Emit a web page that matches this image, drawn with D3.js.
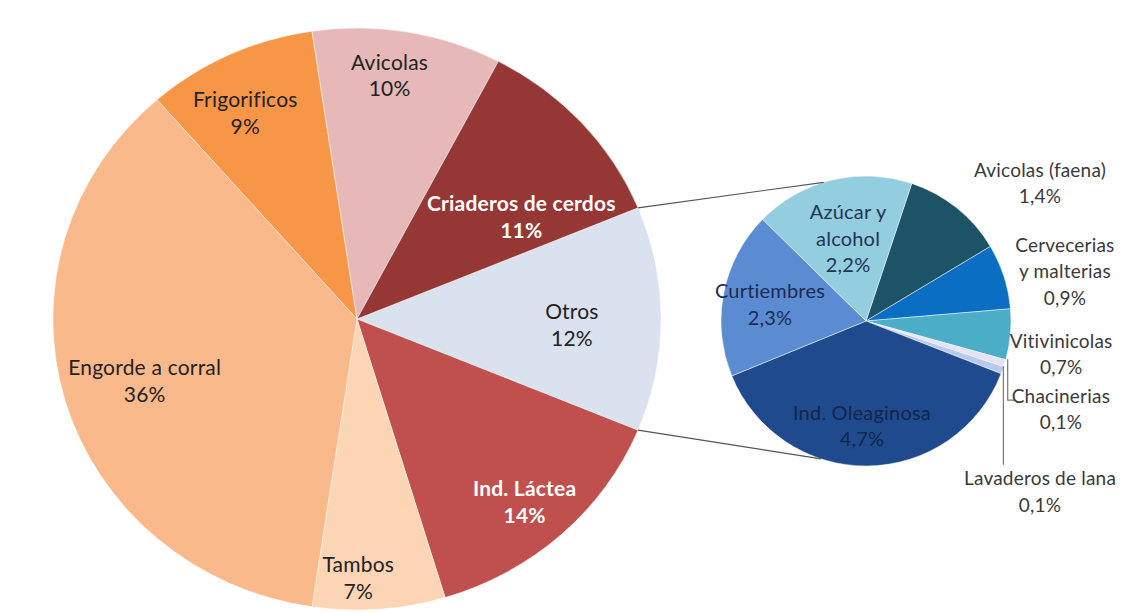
<!DOCTYPE html>
<html><head><meta charset="utf-8">
<script src="https://cdn.jsdelivr.net/npm/d3@7"></script>
<style>body{margin:0;background:#fff;overflow:hidden}svg{display:block}</style>
</head><body><svg id="c" width="1123" height="613"></svg>
<script>
// ---- data ----
const mainCats   = ["Otros","Ind. Láctea","Tambos","Engorde a corral","Frigorificos","Avicolas","Criaderos de cerdos"];
const mainValues = [12.4, 14, 7, 36, 9, 10, 11];
const mainLabels = ["12%","14%","7%","36%","9%","10%","11%"];
const subCats    = ["Avicolas (faena)","Cervecerias y malterias","Vitivinicolas","Chacinerias","Lavaderos de lana","Ind. Oleaginosa","Curtiembres","Azúcar y alcohol"];
const subValues  = [1.4, 0.9, 0.7, 0.1, 0.1, 4.7, 2.3, 2.2];
const subLabels  = ["1,4%","0,9%","0,7%","0,1%","0,1%","4,7%","2,3%","2,2%"];

// ---- styles / layout ----
const mainColors = ["#DAE1EF","#C0504D","#FCD5B5","#FAB98A","#F79646","#E6B9B8","#953735"];
const mainText   = ["#222","#fff","#222","#222","#222","#222","#fff"];
const mainBold   = [false,true,false,false,false,false,true];
const mainLabelLines = [["Otros"],["Ind. Láctea"],["Tambos"],["Engorde a corral"],["Frigorificos"],["Avicolas"],["Criaderos de cerdos"]];
// label placement: [angle offset (deg), radius fraction]
const mainLabelPos = [[1.7,0.707],[1,0.837],[3.9,0.89],[-0.7,0.73],[-2.65,0.797],[-2.3,0.843],[9.4,0.644]];

const subColors = ["#1D5366","#0A6FC2","#4BADC8","#E4E2F6","#B7C9EE","#1F4B8E","#5B8BD0","#93CDE0"];
const subLines  = [["Avicolas (faena)"],["Cervecerias","y malterias"],["Vitivinicolas"],["Chacinerias"],["Lavaderos de lana"],["Ind. Oleaginosa"],["Curtiembres"],["Azúcar y","alcohol"]];
const subText   = ["#3a3a3a","#3a3a3a","#3a3a3a","#3a3a3a","#3a3a3a","#12264a","#1b2c52","#1f3550"];
const subInside = [false,false,false,false,false,true,true,true];
// [angle deg, radius] relative to sub-pie centre
const subLabelPos = [[51.6,222],[76,205],[99.7,198],[114.4,214],[134.5,244],[182.2,105],[279.75,97.4],[347.7,84]];

const svg = d3.select("#c");
const font = "Lato, 'Open Sans', sans-serif";
const fs = 21, sfs = 20, ofs = 19;
const lh = 26.5;
const rad = d => d*Math.PI/180;

// ---------- main pie ----------
const mcx = 357, mcy = 319, mR = 291, mSx = 1.045;
const mainTotal = d3.sum(mainValues);
const otrosSpan = mainValues[0]/mainTotal*2*Math.PI;
const mainPie = d3.pie().sort(null).value(d=>d)
  .startAngle(Math.PI/2 - otrosSpan/2).endAngle(Math.PI/2 - otrosSpan/2 + 2*Math.PI);
const mArcs = mainPie(mainValues);
const mArc = d3.arc().innerRadius(0).outerRadius(mR);
const gM = svg.append("g").attr("transform",`translate(${mcx},${mcy}) scale(${mSx},1)`);
gM.selectAll("path").data(mArcs).join("path")
  .attr("d", mArc).attr("fill",(d,i)=>mainColors[i])
  .attr("stroke","#fff").attr("stroke-width",0.8).attr("stroke-opacity",0.6);

const polar = (cx,cy,r,a,sx=1)=>[cx + sx*r*Math.sin(a), cy - r*Math.cos(a)];

function addLabel(x, y, lines, size, color, bold){
  const t = svg.append("text").attr("text-anchor","middle")
    .attr("font-family",font).attr("font-size",size)
    .attr("font-weight", bold ? "bold" : "normal")
    .attr("letter-spacing", 0.2)
    .attr("fill", color);
  lines.forEach((ln,j)=>{
    t.append("tspan").attr("x",x).attr("y", y + (j-(lines.length-1)/2)*lh + size*0.35).text(ln);
  });
}

mArcs.forEach((d,i)=>{
  const a = (d.startAngle+d.endAngle)/2 + rad(mainLabelPos[i][0]);
  const [x,y] = polar(mcx,mcy,mR*mainLabelPos[i][1],a,mSx);
  addLabel(x, y, mainLabelLines[i].concat([mainLabels[i]]), fs, mainText[i], mainBold[i]);
});

// ---------- sub pie ----------
const scx = 866, scy = 321, sR = 145;
const subPie = d3.pie().sort(null).value(d=>d)
  .startAngle(rad(18.4)).endAngle(rad(18.4)+2*Math.PI);
const sArcs = subPie(subValues);
const sArc = d3.arc().innerRadius(0).outerRadius(sR);
const gS = svg.append("g").attr("transform",`translate(${scx},${scy})`);
gS.selectAll("path").data(sArcs).join("path")
  .attr("d", sArc).attr("fill",(d,i)=>subColors[i])
  .attr("stroke","#fff").attr("stroke-width",0.8).attr("stroke-opacity",0.6);

// connector lines
const mTop = polar(mcx,mcy,mR,mArcs[0].startAngle,mSx);
const mBot = polar(mcx,mcy,mR,mArcs[0].endAngle,mSx);
const sTop = polar(scx,scy,sR,rad(-17));
const sBot = polar(scx,scy,sR,rad(198));
svg.append("line").attr("x1",mTop[0]).attr("y1",mTop[1]).attr("x2",sTop[0]).attr("y2",sTop[1])
  .attr("stroke","#555").attr("stroke-width",1.1);
svg.append("line").attr("x1",mBot[0]).attr("y1",mBot[1]).attr("x2",sBot[0]).attr("y2",sBot[1])
  .attr("stroke","#555").attr("stroke-width",1.1);

// label anchors
const subAnchor = subLabelPos.map(p => polar(scx,scy,p[1],rad(p[0])));

// leader lines for tiny slices
const chA = (sArcs[3].startAngle+sArcs[3].endAngle)/2;
const laA = (sArcs[4].startAngle+sArcs[4].endAngle)/2;
const chP = polar(scx,scy,sR,chA), laP = polar(scx,scy,sR,laA);
const chY = subAnchor[3][1] - lh/2 + 4;
const laY = subAnchor[4][1] - lh/2 - 14;
svg.append("path").attr("d",`M${chP[0]+3},${chP[1]-4}V${chY}H${chP[0]+10}`)
  .attr("fill","none").attr("stroke","#777").attr("stroke-width",1.2);
svg.append("path").attr("d",`M${laP[0]+1},${laP[1]-4}V${laY}`)
  .attr("fill","none").attr("stroke","#777").attr("stroke-width",1.2);

sArcs.forEach((d,i)=>{
  const [x,y] = subAnchor[i];
  addLabel(x, y, subLines[i].concat([subLabels[i]]), subInside[i] ? sfs : ofs, subText[i], false);
});
</script></body></html>
